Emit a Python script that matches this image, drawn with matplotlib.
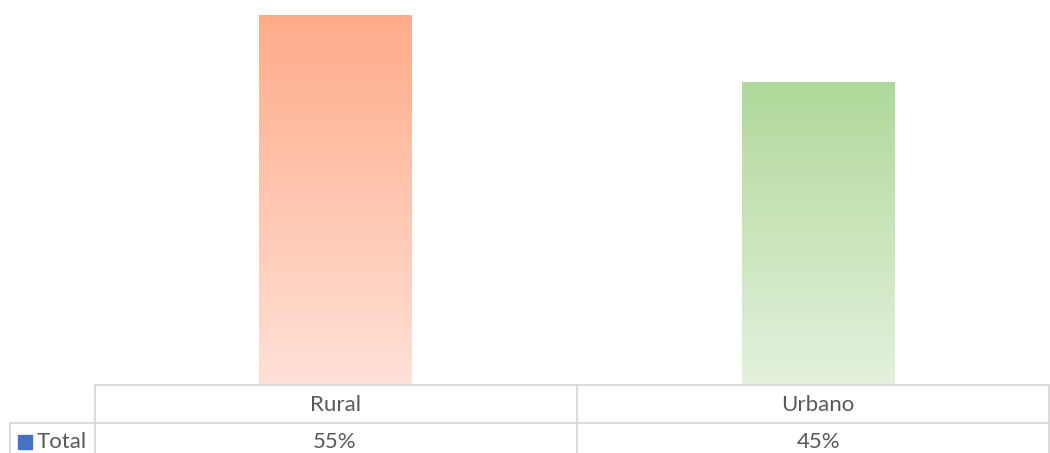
import numpy as np
import matplotlib
matplotlib.use("Agg")
import matplotlib.pyplot as plt
from matplotlib.transforms import blended_transform_factory
from matplotlib.colors import LinearSegmentedColormap

categories = ["Rural", "Urbano"]
values = [0.55, 0.45]
value_labels = ["55%", "45%"]
series_name = "Total"
top_colors = ["#FFAB89", "#B0D99A"]
bottom_colors = ["#FFE1D7", "#E4F1DD"]

W, H = 1050, 453
fig = plt.figure(figsize=(W / 100, H / 100), dpi=100)
plt.rcParams['font.family'] = ['Lato', 'DejaVu Sans']

def fx(px):
    return px / W

def fy(py):
    return 1 - py / H

ax = fig.add_axes([fx(95), fy(385), fx(1049) - fx(95), fy(0) - fy(385)])
ax.set_xlim(-0.497, 1.478)
ax.set_ylim(0, 0.55 * 385 / 370)
for s in ax.spines.values():
    s.set_visible(False)
ax.set_xticks([])
ax.set_yticks([])

x = np.arange(len(categories))
bars = ax.bar(x, values, width=0.315, color="none", edgecolor="none")
grad = np.linspace(1, 0, 256).reshape(-1, 1)
for b, tc, bc in zip(bars, top_colors, bottom_colors):
    cmap = LinearSegmentedColormap.from_list("g", [bc, tc])
    ax.imshow(grad, cmap=cmap, aspect="auto",
              extent=[b.get_x(), b.get_x() + b.get_width(), 0, b.get_height()],
              interpolation="bilinear", zorder=2)
ax.set_xlim(-0.497, 1.478)
ax.set_ylim(0, 0.55 * 385 / 370)

# data table below the plot
tr = blended_transform_factory(ax.transData, fig.transFigure)
line_kw = dict(color="#D9D9D9", lw=1.3, clip_on=False, transform=fig.transFigure)
xl, xr = fx(95), fx(1049)
fig.add_artist(plt.Line2D([xl, xr], [fy(385), fy(385)], **line_kw))
fig.add_artist(plt.Line2D([fx(10), xr], [fy(423), fy(423)], **line_kw))
fig.add_artist(plt.Line2D([xl, xl], [fy(385), fy(460)], **line_kw))
fig.add_artist(plt.Line2D([xr, xr], [fy(385), fy(460)], **line_kw))
fig.add_artist(plt.Line2D([fx(10), fx(10)], [fy(423), fy(460)], **line_kw))
for b in x[:-1] + 0.5:
    fig.add_artist(plt.Line2D([b, b], [fy(385), fy(460)], color="#D9D9D9", lw=1.3,
                              clip_on=False, transform=tr))

txt_kw = dict(color="#595959", fontsize=16, ha="center", va="center")
for xi, cat, lab in zip(x, categories, value_labels):
    fig.text(xi, fy(405), cat, transform=tr, **txt_kw)
    fig.text(xi, fy(442), lab, transform=tr, **txt_kw)

fig.add_artist(plt.Rectangle((fx(18), fy(449)), fx(14), fy(435) - fy(449),
                             color="#4472C4", transform=fig.transFigure))
fig.text(fx(37), fy(442), series_name, color="#595959", fontsize=16,
         ha="left", va="center")

fig.savefig("out.png", dpi=100)
